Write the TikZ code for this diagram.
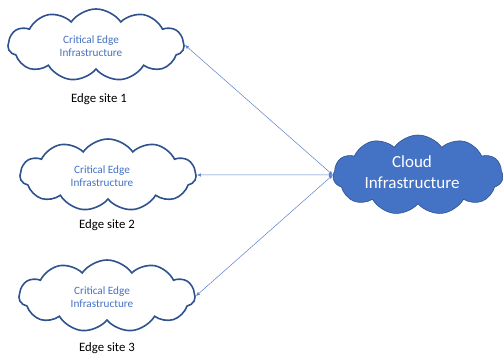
\documentclass[tikz,border=0pt]{standalone}
\usepackage{fontspec}
\setmainfont{Carlito}
\usetikzlibrary{shapes.symbols,arrows.meta}
\definecolor{edgeblue}{HTML}{2F528F}
\definecolor{txtblue}{HTML}{4472C4}
\definecolor{linkblue}{HTML}{5B7FC7}
\tikzset{
  edgecloud/.style={cloud, cloud puffs=11, cloud puff arc=110, aspect=2.1, draw=edgeblue, line width=1.6pt, fill=white,
    minimum width=176pt, minimum height=72pt, align=center},
  edgetext/.style={text=txtblue, font=\fontsize{11.2}{12.5}\selectfont, align=center, inner sep=0pt},
  bigcloud/.style={cloud, cloud puffs=11, cloud puff arc=110, aspect=2.1, draw=edgeblue, line width=0.6pt, fill=txtblue,
    minimum width=170pt, minimum height=80pt},
  bigtext/.style={text=white, font=\fontsize{17}{20.5}\selectfont, align=center, inner sep=0pt},
  sitelabel/.style={font=\fontsize{12.8}{14}\selectfont, text=black},
  link/.style={draw=linkblue, line width=0.5pt, {Latex[length=4pt,width=3.5pt]}-{Latex[length=4pt,width=3.5pt]}}
}
\begin{document}
\begin{tikzpicture}[x=1pt,y=-1pt]
\useasboundingbox (0,0) rectangle (503,358);
\node[edgecloud] (e1) at (96,45) {};
\node[edgecloud] (e2) at (108,175) {};
\node[edgecloud] (e3) at (107,296) {};
\node[edgetext] (t1) at (91,46) {Critical Edge\\Infrastructure};
\node[edgetext] (t2) at (102,176) {Critical Edge\\Infrastructure};
\node[edgetext] (t3) at (102,297) {Critical Edge\\Infrastructure};
\node[sitelabel] (l1) at (99,99) {Edge site 1};
\node[sitelabel] (l2) at (107,225) {Edge site 2};
\node[sitelabel] (l3) at (107,348) {Edge site 3};
\node[bigcloud] (c) at (418,175) {};
\node[bigtext] (ct) at (412,172) {Cloud\\Infrastructure};
\draw[link] (c.west) -- (e1.east);
\draw[link] (c.west) -- (e2.east);
\draw[link] (c.west) -- (e3.east);
\end{tikzpicture}
\end{document}
